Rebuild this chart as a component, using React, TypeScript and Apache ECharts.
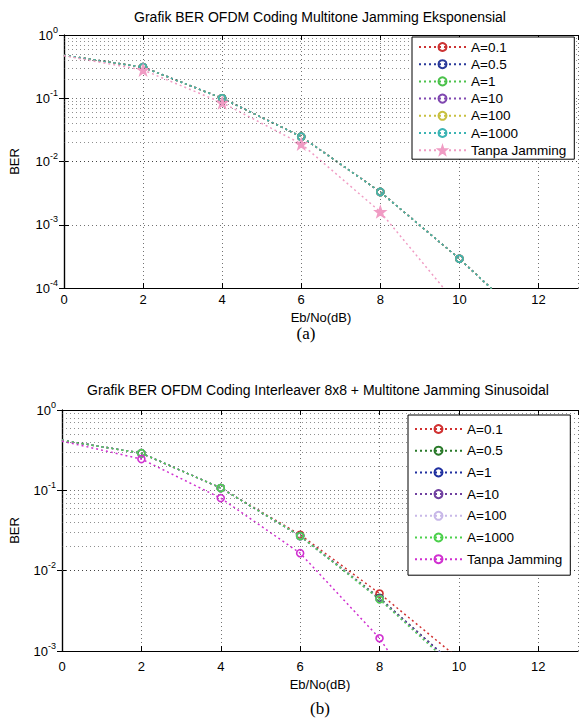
import React, { useEffect, useRef } from "react";
import * as echarts from "echarts";

const FONT = '"Liberation Sans", Arial, Helvetica, sans-serif';

// ---------- shared ----------
const ebNo = [0, 2, 4, 6, 8, 10, 12];
const xTickStep = 2;
const seriesNames = ["A=0.1", "A=0.5", "A=1", "A=10", "A=100", "A=1000", "Tanpa Jamming"];
const minorMultipliers = [2, 3, 4, 5, 6, 7, 8, 9];

// ---------- chart (a) ----------
const titleA = "Grafik BER OFDM Coding Multitone Jamming Eksponensial";
const captionA = "(a)";
const berA_01 = [0.48, 0.31, 0.1, 0.0247, 0.0033, 0.00029, 0.00002];
const berA_05 = [0.48, 0.31, 0.1, 0.0247, 0.0033, 0.00029, 0.00002];
const berA_1 = [0.48, 0.31, 0.1, 0.0247, 0.0033, 0.00029, 0.00002];
const berA_10 = [0.48, 0.31, 0.1, 0.0247, 0.0033, 0.00029, 0.00002];
const berA_100 = [0.48, 0.31, 0.1, 0.0247, 0.0033, 0.00029, 0.00002];
const berA_1000 = [0.48, 0.31, 0.1, 0.0247, 0.0033, 0.00029, 0.00002];
const berA_tanpa = [0.47, 0.28, 0.085, 0.019, 0.0016, 0.00005];
const colorsA = ["#cc3333", "#2a3a9a", "#4cc24c", "#8048b0", "#c8c040", "#3cb4b4", "#f09cc4"];

// ---------- chart (b) ----------
const titleB = "Grafik BER OFDM Coding Interleaver 8x8 + Multitone Jamming Sinusoidal";
const captionB = "(b)";
const berB_01 = [0.42, 0.29, 0.107, 0.028, 0.0052, 0.0008, 0.0001];
const berB_05 = [0.42, 0.29, 0.107, 0.027, 0.0046, 0.0006, 0.00006];
const berB_1 = [0.42, 0.29, 0.107, 0.027, 0.0045, 0.0006, 0.00006];
const berB_10 = [0.42, 0.29, 0.107, 0.027, 0.0045, 0.0006, 0.00006];
const berB_100 = [0.42, 0.29, 0.107, 0.027, 0.0044, 0.00055, 0.00005];
const berB_1000 = [0.42, 0.29, 0.107, 0.027, 0.0044, 0.00055, 0.00005];
const berB_tanpa = [0.41, 0.245, 0.08, 0.0165, 0.00144, 0.00005];
const colorsB = ["#d03030", "#2a7a2a", "#2030a0", "#7040a0", "#c8b8e8", "#4cd04c", "#d030d0"];

const STAR =
  "path://M0,-10L2.35,-3.24L9.51,-3.09L3.8,1.24L5.88,8.09L0,4L-5.88,8.09L-3.8,1.24L-9.51,-3.09L-2.35,-3.24Z";

type Layout = {
  title: string;
  caption: string;
  titleX: number;
  titleY: number;
  captionX: number;
  captionY: number;
  gridLeft: number;
  gridTop: number;
  gridWidth: number;
  gridHeight: number;
  yMinExp: number;
  legendLeft: number;
  legendTop: number;
  legendGap: number;
  legendLineHeight: number;
  legendPadding: number[];
  xLabelMargin: number;
  xNameGap: number;
  yNameGap: number;
  values: number[][];
  colors: string[];
  symbols: string[];
};

function buildOption(L: Layout) {
  const yMin = Math.pow(10, L.yMinExp);
  const minorVals: number[] = [];
  for (let e = L.yMinExp; e < 0; e++) {
    for (const m of minorMultipliers) minorVals.push(m * Math.pow(10, e));
  }
  const dotted = { color: "#444", width: 1, type: [1, 3] as number[], opacity: 0.75 };

  const series = seriesNames.map((name, i) => {
    const color = L.colors[i];
    const s: any = {
      type: "line",
      name,
      data: L.values[i].map((v, k) =>
        k === 0 ? { value: [ebNo[k], v], symbol: "none" } : [ebNo[k], v]
      ),
      symbol: L.symbols[i],
      symbolSize: L.symbols[i] === "circle" ? 7 : 10,
      lineStyle: { color, width: 1.5, type: [2, 3] },
      itemStyle: {
        color: L.symbols[i] === "circle" ? "rgba(255,255,255,0)" : color,
        borderColor: color,
        borderWidth: 1.6,
      },
      emphasis: { disabled: true },
      clip: true,
    };
    if (i === 0) {
      s.markLine = {
        silent: true,
        symbol: ["none", "none"],
        label: { show: false },
        lineStyle: { ...dotted, opacity: 0.6 },
        data: minorVals.map((v) => ({ yAxis: v })),
      };
    }
    return s;
  });

  const xBase = {
    type: "value",
    min: 0,
    max: 13,
    interval: xTickStep,
    axisLine: { show: true, lineStyle: { color: "#000", width: 1.2 } },
    axisTick: { show: true, inside: true, length: 5, lineStyle: { color: "#000" } },
  };
  const yBase = {
    type: "log",
    logBase: 10,
    min: yMin,
    max: 1,
    axisLine: { show: true, lineStyle: { color: "#000", width: 1.2 } },
    axisTick: { show: true, inside: true, length: 5, lineStyle: { color: "#000" } },
  };

  return {
    animation: false,
    grid: {
      left: L.gridLeft,
      top: L.gridTop,
      width: L.gridWidth,
      height: L.gridHeight,
      containLabel: false,
    },
    xAxis: [
      {
        ...xBase,
        position: "bottom",
        name: "Eb/No(dB)",
        nameLocation: "middle",
        nameGap: L.xNameGap,
        nameTextStyle: { fontFamily: FONT, fontSize: 13, color: "#000" },
        axisLabel: {
          fontFamily: FONT,
          fontSize: 13,
          color: "#000",
          margin: L.xLabelMargin,
          showMaxLabel: false,
        },
        splitLine: { show: true, lineStyle: dotted },
      },
      {
        ...xBase,
        position: "top",
        axisLabel: { show: false },
        splitLine: { show: false },
      },
    ],
    yAxis: [
      {
        ...yBase,
        position: "left",
        name: "BER",
        nameLocation: "middle",
        nameGap: L.yNameGap,
        nameTextStyle: { fontFamily: FONT, fontSize: 13, color: "#000" },
        axisLabel: {
          margin: 6,
          formatter: (v: number) => {
            const e = Math.round(Math.log10(v));
            return `{m|10}{e|${e}}`;
          },
          rich: {
            m: { fontFamily: FONT, fontSize: 13, color: "#000", lineHeight: 20 },
            e: {
              fontFamily: FONT,
              fontSize: 9,
              color: "#000",
              lineHeight: 9,
              verticalAlign: "top",
            },
          },
        },
        splitLine: { show: true, lineStyle: dotted },
      },
      {
        ...yBase,
        position: "right",
        axisLabel: { show: false },
        splitLine: { show: false },
      },
    ],
    legend: {
      orient: "vertical",
      left: L.legendLeft,
      top: L.legendTop,
      itemWidth: 47,
      itemHeight: 10,
      itemGap: L.legendGap,
      padding: L.legendPadding,
      backgroundColor: "#fff",
      borderColor: "#000",
      borderWidth: 1,
      selectedMode: false,
      z: 10,
      textStyle: {
        fontFamily: FONT,
        fontSize: 13.5,
        color: "#000",
        lineHeight: L.legendLineHeight,
      },
      data: seriesNames,
    },
    graphic: [
      {
        type: "text",
        x: L.titleX,
        y: L.titleY,
        style: {
          text: L.title,
          font: `14px ${FONT}`,
          fill: "#000",
          textAlign: "center",
          align: "center",
          textVerticalAlign: "middle",
          verticalAlign: "middle",
        },
      },
      {
        type: "text",
        x: L.captionX,
        y: L.captionY,
        style: {
          text: L.caption,
          font: '17px "Liberation Serif", "Times New Roman", serif',
          fill: "#000",
          textAlign: "center",
          align: "center",
          textVerticalAlign: "middle",
          verticalAlign: "middle",
        },
      },
    ],
    series,
  };
}

const layoutA: Layout = {
  title: titleA,
  caption: captionA,
  titleX: 320,
  titleY: 17,
  captionX: 306,
  captionY: 333,
  gridLeft: 60,
  gridTop: 35,
  gridWidth: 518,
  gridHeight: 253,
  yMinExp: -4,
  legendLeft: 412,
  legendTop: 37,
  legendGap: 3.2,
  legendLineHeight: 14,
  legendPadding: [3, 8, 2, 6],
  xLabelMargin: 5,
  xNameGap: 17,
  yNameGap: 43,
  values: [berA_01, berA_05, berA_1, berA_10, berA_100, berA_1000, berA_tanpa],
  colors: colorsA,
  symbols: ["circle", "circle", "circle", "circle", "circle", "circle", STAR],
};

const layoutB: Layout = {
  title: titleB,
  caption: captionB,
  titleX: 318,
  titleY: 30,
  captionX: 320,
  captionY: 348,
  gridLeft: 58,
  gridTop: 50,
  gridWidth: 520,
  gridHeight: 241,
  yMinExp: -3,
  legendLeft: 408,
  legendTop: 55,
  legendGap: 5.7,
  legendLineHeight: 16,
  legendPadding: [6, 8, 8, 6],
  xLabelMargin: 9,
  xNameGap: 27,
  yNameGap: 41,
  values: [berB_01, berB_05, berB_1, berB_10, berB_100, berB_1000, berB_tanpa],
  colors: colorsB,
  symbols: ["circle", "circle", "circle", "circle", "circle", "circle", "circle"],
};

export default function App() {
  const refA = useRef<HTMLDivElement>(null);
  const refB = useRef<HTMLDivElement>(null);

  useEffect(() => {
    document.body.style.margin = "0";
    const a = echarts.init(refA.current as HTMLDivElement, null, { renderer: "svg" });
    a.setOption(buildOption(layoutA) as any);
    const b = echarts.init(refB.current as HTMLDivElement, null, { renderer: "svg" });
    b.setOption(buildOption(layoutB) as any);
    return () => {
      a.dispose();
      b.dispose();
    };
  }, []);

  return (
    <div style={{ position: "relative", width: 579, height: 719, background: "#fff" }}>
      <div ref={refA} style={{ position: "absolute", left: 0, top: 0, width: 579, height: 360 }} />
      <div ref={refB} style={{ position: "absolute", left: 0, top: 360, width: 579, height: 359 }} />
    </div>
  );
}
